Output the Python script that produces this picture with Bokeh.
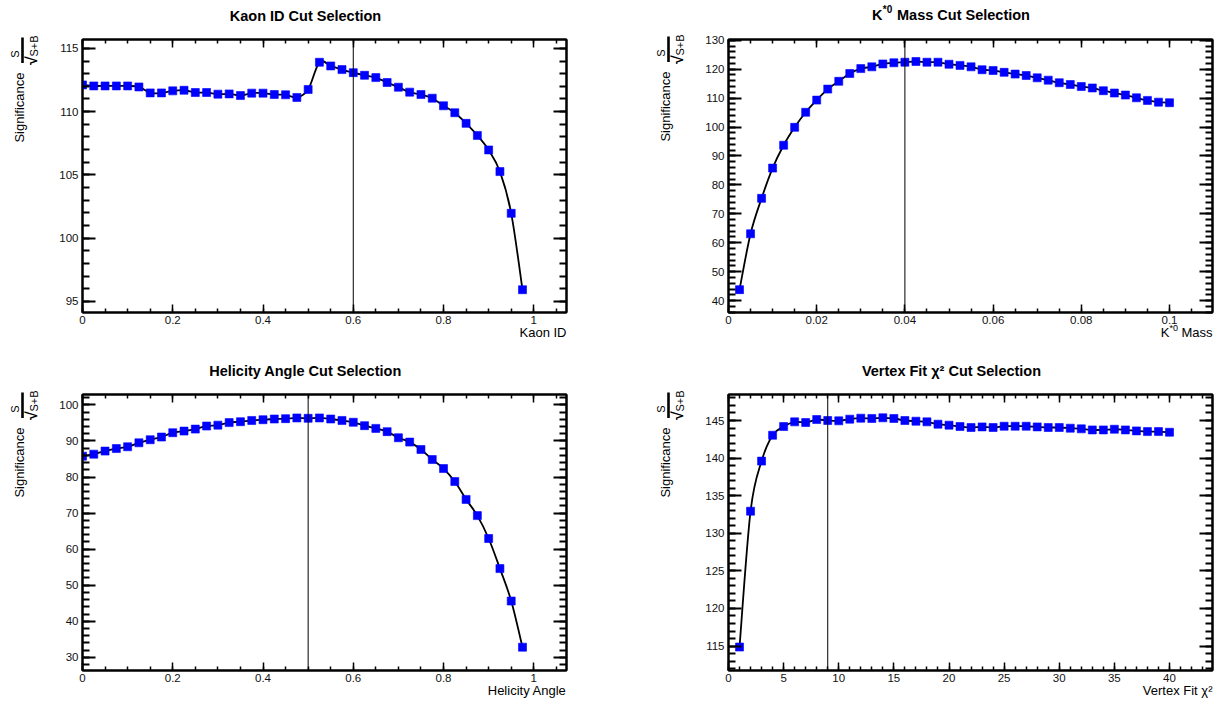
import math
from bokeh.plotting import figure
from bokeh.models import (Range1d, SingleIntervalTicker, LinearAxis, Span, Label,
                          BoxAnnotation, CustomJSTickFormatter, ColumnDataSource,
                          CustomLabelingPolicy, GridBox)
from bokeh.embed import file_html
from bokeh.resources import INLINE

# ---------------- data ----------------
kaon_cut = [0.0, 0.025, 0.05, 0.075, 0.1, 0.125, 0.15, 0.175, 0.2, 0.225,
            0.25, 0.275, 0.3, 0.325, 0.35, 0.375, 0.4, 0.425, 0.45, 0.475,
            0.5, 0.525, 0.55, 0.575, 0.6, 0.625, 0.65, 0.675, 0.7, 0.725,
            0.75, 0.775, 0.8, 0.825, 0.85, 0.875, 0.9, 0.925, 0.95, 0.975]
kaon_sig = [112.11, 112.03, 112.03, 112.03, 112.03, 111.95, 111.48, 111.48, 111.64, 111.69,
            111.51, 111.51, 111.38, 111.40, 111.27, 111.46, 111.46, 111.35, 111.33, 111.12,
            111.75, 113.90, 113.61, 113.32, 113.08, 112.87, 112.69, 112.30, 111.93, 111.54,
            111.35, 111.06, 110.46, 109.91, 109.07, 108.12, 106.97, 105.26, 101.96, 95.92]

mass_cut = [0.0025, 0.005, 0.0075, 0.01, 0.0125, 0.015, 0.0175, 0.02, 0.0225, 0.025,
            0.0275, 0.03, 0.0325, 0.035, 0.0375, 0.04, 0.0425, 0.045, 0.0475, 0.05,
            0.0525, 0.055, 0.0575, 0.06, 0.0625, 0.065, 0.0675, 0.07, 0.0725, 0.075,
            0.0775, 0.08, 0.0825, 0.085, 0.0875, 0.09, 0.0925, 0.095, 0.0975, 0.1]
mass_sig = [43.8, 63.1, 75.35, 85.8, 93.7, 99.9, 105.1, 109.3, 113.1, 115.8,
            118.5, 120.2, 120.8, 121.8, 122.2, 122.4, 122.65, 122.4, 122.4, 121.7,
            121.3, 120.8, 119.8, 119.55, 118.9, 118.3, 117.8, 117.0, 116.2, 115.3,
            114.7, 114.0, 113.5, 112.55, 111.75, 111.05, 110.1, 109.2, 108.6, 108.4]

hel_cut = [0.0, 0.025, 0.05, 0.075, 0.1, 0.125, 0.15, 0.175, 0.2, 0.225,
           0.25, 0.275, 0.3, 0.325, 0.35, 0.375, 0.4, 0.425, 0.45, 0.475,
           0.5, 0.525, 0.55, 0.575, 0.6, 0.625, 0.65, 0.675, 0.7, 0.725,
           0.75, 0.775, 0.8, 0.825, 0.85, 0.875, 0.9, 0.925, 0.95, 0.975]
hel_sig = [85.8, 86.35, 87.2, 87.9, 88.4, 89.5, 90.35, 91.1, 92.3, 92.75,
           93.3, 94.15, 94.4, 95.1, 95.35, 95.7, 95.9, 96.1, 96.2, 96.4,
           96.3, 96.4, 96.1, 95.7, 95.2, 94.25, 93.5, 92.6, 90.9, 89.7,
           87.65, 84.85, 82.35, 78.75, 73.8, 69.3, 62.95, 54.6, 45.6, 32.8]

vtx_cut = [1, 2, 3, 4, 5, 6, 7, 8, 9, 10,
           11, 12, 13, 14, 15, 16, 17, 18, 19, 20,
           21, 22, 23, 24, 25, 26, 27, 28, 29, 30,
           31, 32, 33, 34, 35, 36, 37, 38, 39, 40]
vtx_sig = [114.87, 132.94, 139.6, 143.04, 144.2, 144.82, 144.73, 145.13, 145.0, 144.96,
           145.18, 145.31, 145.27, 145.36, 145.27, 145.0, 144.91, 144.82, 144.51, 144.38,
           144.2, 144.07, 144.15, 144.07, 144.24, 144.24, 144.24, 144.15, 144.07, 144.07,
           143.98, 143.89, 143.75, 143.75, 143.84, 143.75, 143.62, 143.53, 143.53, 143.44]

chosen_cuts = [0.6, 0.04, 0.5, 9]

titles = ["Kaon ID Cut Selection", "Mass Cut Selection",
          "Helicity Angle Cut Selection", "Vertex Fit \u03c7\u00b2 Cut Selection"]
x_titles = ["Kaon ID", "Mass", "Helicity Angle", "Vertex Fit \u03c7\u00b2"]

FONT = "Liberation Sans"
BLUE = "#0000ff"
W, H = 1223, 702


def smooth_segments(xs, ys):
    """Bezier control points of a Catmull-Rom curve through the data points."""
    n = len(xs)
    d = dict(x0=[], y0=[], x1=[], y1=[], cx0=[], cy0=[], cx1=[], cy1=[])
    for i in range(n - 1):
        xm, ym = (xs[i - 1], ys[i - 1]) if i > 0 else (xs[i], ys[i])
        xp, yp = (xs[i + 2], ys[i + 2]) if i + 2 < n else (xs[i + 1], ys[i + 1])
        d["x0"].append(xs[i]); d["y0"].append(ys[i])
        d["x1"].append(xs[i + 1]); d["y1"].append(ys[i + 1])
        d["cx0"].append(xs[i] + (xs[i + 1] - xm) / 6.0)
        d["cy0"].append(ys[i] + (ys[i + 1] - ym) / 6.0)
        d["cx1"].append(xs[i + 1] - (xp - xs[i]) / 6.0)
        d["cy1"].append(ys[i + 1] - (yp - ys[i]) / 6.0)
    return d


def style_axis(ax, interval, minor, is_y, show_labels):
    ax.ticker = SingleIntervalTicker(interval=interval, num_minor_ticks=minor)
    ax.axis_line_width = 2
    ax.axis_line_color = "black"
    ax.major_tick_out = 0
    ax.minor_tick_out = 0
    ax.major_tick_in = 13 if is_y else 8
    ax.minor_tick_in = 7 if is_y else 4
    ax.major_tick_line_width = 2 if is_y else 1.5
    ax.minor_tick_line_width = 2 if is_y else 1.5
    ax.major_tick_line_color = "black"
    ax.minor_tick_line_color = "black"
    ax.major_label_text_font = FONT
    ax.major_label_text_color = "#111111"
    ax.major_label_text_font_size = "11.5px"
    if show_labels:
        ax.formatter = CustomJSTickFormatter(code="return Number(tick.toPrecision(6)).toString();")
        ax.major_label_standoff = 4 if is_y else 3
    else:
        ax.formatter = CustomJSTickFormatter(code="return '';")
        ax.major_label_policy = CustomLabelingPolicy(code="return [];")
        ax.major_label_standoff = 0


def make_panel(w, h, bl, br, bt, bb, xr, yr, xint, xminor, yint, yminor, xs, ys, cut):
    p = figure(width=w, height=h, output_backend="svg", toolbar_location=None, tools="",
               x_range=Range1d(*xr), y_range=Range1d(*yr),
               min_border_left=bl, min_border_right=br,
               min_border_top=bt, min_border_bottom=bb)
    p.xgrid.visible = False
    p.ygrid.visible = False
    p.outline_line_color = "black"
    p.outline_line_width = 2
    p.background_fill_color = "white"
    p.border_fill_color = "white"
    p.add_layout(LinearAxis(), "above")
    p.add_layout(LinearAxis(), "right")
    style_axis(p.below[0], xint, xminor, False, True)
    style_axis(p.above[0], xint, xminor, False, False)
    style_axis(p.left[0], yint, yminor, True, True)
    style_axis(p.right[0], yint, yminor, True, False)

    p.add_layout(Span(location=cut, dimension="height", line_color="black", line_width=1))
    p.bezier(x0="x0", y0="y0", x1="x1", y1="y1", cx0="cx0", cy0="cy0", cx1="cx1", cy1="cy1",
             source=ColumnDataSource(smooth_segments(xs, ys)),
             line_color="black", line_width=1.8)
    p.scatter(xs, ys, marker="square", size=8, fill_color=BLUE, line_color=BLUE, line_width=0.6)
    return p


# panel geometry: (origin x, origin y, width, height, border l, r, t, b)
geo = [(0, 0, 611, 351, 82, 45, 39, 39),
       (611, 0, 612, 351, 117, 11, 38, 39),
       (0, 351, 611, 351, 82, 45, 43, 32),
       (611, 351, 612, 351, 117, 11, 43, 32)]

p1 = make_panel(*geo[0][2:], (0, 1.0725), (94.12, 115.70), 0.2, 4, 5, 5,
                kaon_cut, kaon_sig, chosen_cuts[0])
p2 = make_panel(*geo[1][2:], (0, 0.10975), (35.9, 130.25), 0.02, 4, 10, 5,
                mass_cut, mass_sig, chosen_cuts[1])
p3 = make_panel(*geo[2][2:], (0, 1.0725), (26.33, 102.9), 0.2, 4, 10, 5,
                hel_cut, hel_sig, chosen_cuts[2])
p4 = make_panel(*geo[3][2:], (0, 43.9), (111.75, 148.46), 5, 5, 5, 5,
                vtx_cut, vtx_sig, chosen_cuts[3])

# ---------------- transparent text layer over the whole page ----------------
pt = figure(width=W, height=H, output_backend="svg", toolbar_location=None, tools="",
            x_range=Range1d(0, W), y_range=Range1d(0, H),
            x_axis_type=None, y_axis_type=None, min_border=0)
pt.outline_line_color = None
pt.background_fill_color = None
pt.border_fill_color = None
pt.grid.visible = False
try:
    pt.frame_align = False
except Exception:
    pass


def txt(x, y, text, size, angle=0.0, align="left", baseline="alphabetic", bold=False):
    """x, y in page pixels (y downwards)."""
    pt.add_layout(Label(x=x, y=H - y, text=text,
                        text_font=FONT, text_font_size=f"{size}px",
                        text_font_style="bold" if bold else "normal",
                        text_color="black", angle=angle, text_align=align,
                        text_baseline=baseline))


frames = []
for (ox, oy, w, h, bl, br, bt, bb) in geo:
    frames.append((ox + bl, oy + bt, ox + w - br, oy + h - bb))

TY = 23.5   # title baseline above frame top
XY = 20     # x-title baseline below frame bottom
for i, (L, T, R, B) in enumerate(frames):
    # y title: Significance  S / sqrt(S+B)
    txt(L - 63, T + 33, "Significance", 13, angle=math.pi / 2, align="right", baseline="middle")
    txt(L - 68, T + 14.5, "S", 11, angle=math.pi / 2, align="center", baseline="middle")
    txt(L - 48.5, T + 6.5, "S+B", 11, angle=math.pi / 2, align="center", baseline="middle")
    txt(L - 51, T + 21, "\u221a", 16, angle=math.pi / 2, align="center", baseline="middle", bold=True)
    pt.add_layout(BoxAnnotation(left=L - 61.3, right=L - 58.7, top=H - (T - 2), bottom=H - (T + 23.5),
                                fill_color="black", fill_alpha=1.0, line_color=None))
    # title and x title
    if i == 1:
        txt(L + 143.5, T - TY, "K", 14.5, bold=True)
        txt(L + 154.3, T - TY - 6, "*0", 10, bold=True)
        txt(L + 168.5, T - TY, titles[i], 14.5, bold=True)
        txt(R, B + XY, x_titles[i], 13, align="right")
        txt(R - 34.5, B + XY - 5, "*0", 9, align="right")
        txt(R - 43, B + XY, "K", 13, align="right")
    else:
        txt(L + 223, T - TY, titles[i], 14.5, align="center", bold=True)
        txt(R, B + XY, x_titles[i], 13, align="right")

layout = GridBox(children=[(p1, 0, 0), (p2, 0, 1), (p3, 1, 0), (p4, 1, 1), (pt, 0, 0, 2, 2)])
open("out.html", "w").write(file_html(layout, INLINE))
